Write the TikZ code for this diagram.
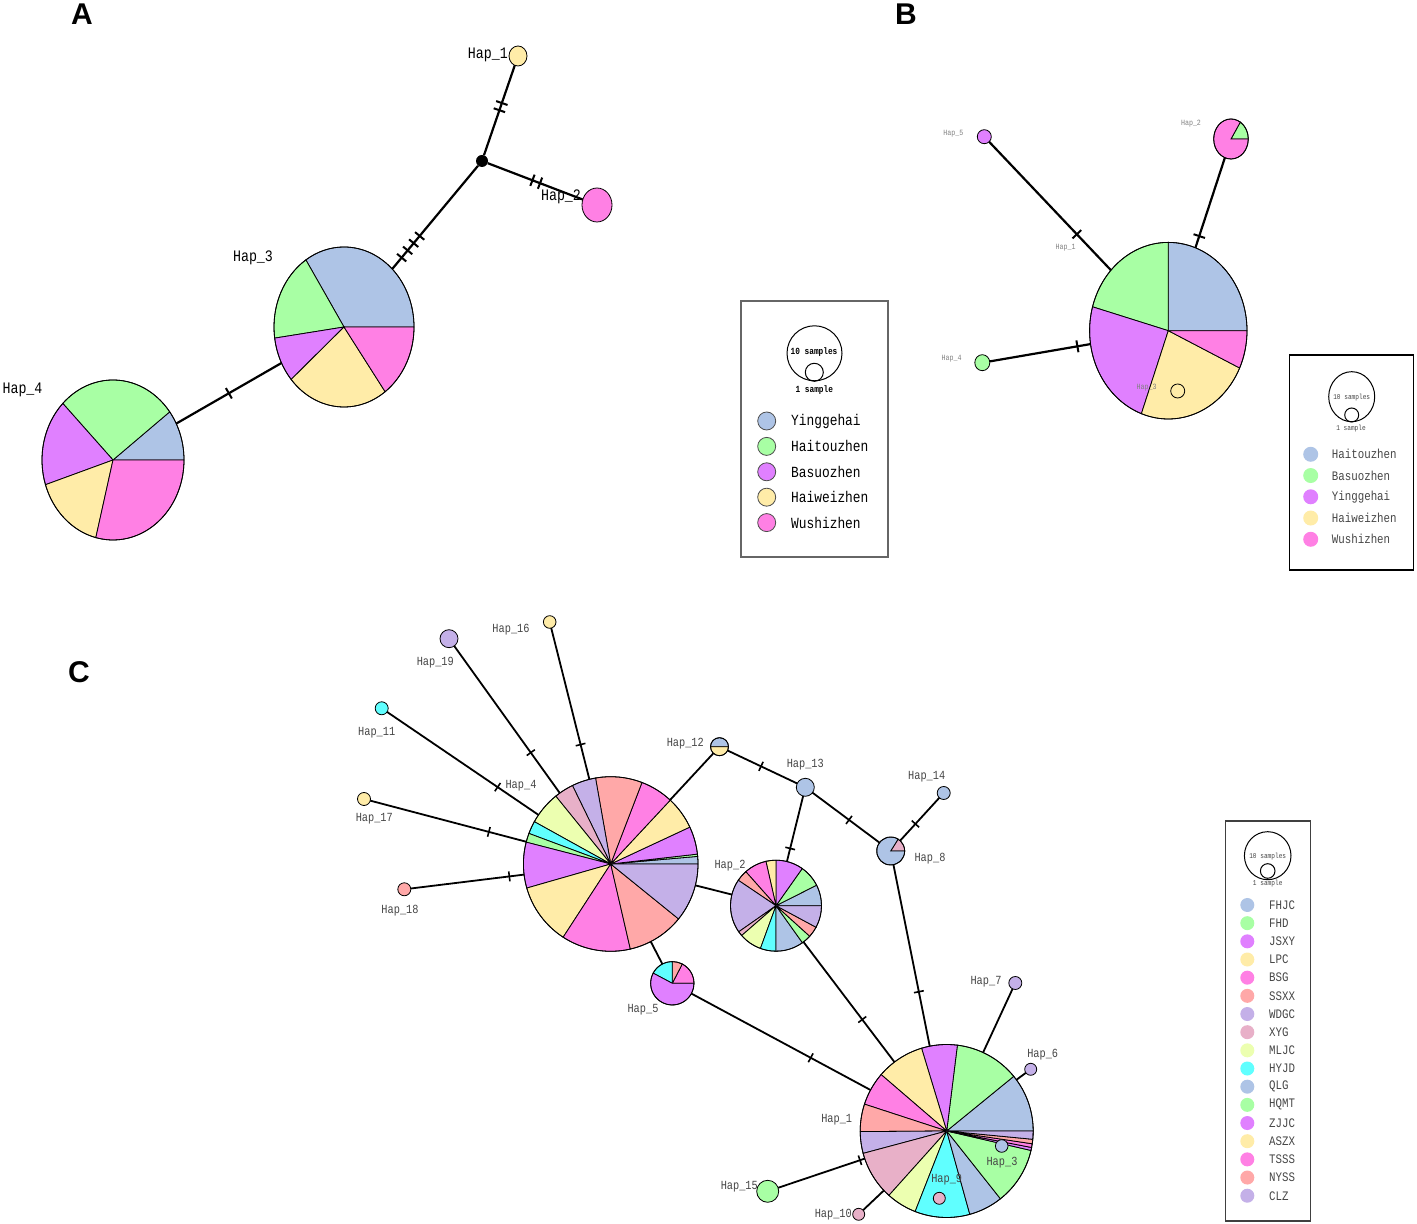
\documentclass[tikz,border=0pt]{standalone}
\usepackage{fontspec}
\setmainfont{Liberation Serif}
\newfontfamily\hapfont[FakeStretch=0.83]{Liberation Mono}
\newfontfamily\panelfont{Liberation Sans}
\usetikzlibrary{shapes.geometric}

\definecolor{hblue}{RGB}{174,196,230}
\definecolor{hgreen}{RGB}{168,255,164}
\definecolor{hpurple}{RGB}{224,128,255}
\definecolor{hyellow}{RGB}{255,236,168}
\definecolor{hpink}{RGB}{255,128,228}
\definecolor{hsalmon}{RGB}{255,168,168}
\definecolor{hlav}{RGB}{196,176,232}
\definecolor{hmauve}{RGB}{232,176,200}
\definecolor{hlime}{RGB}{236,255,176}
\definecolor{hcyan}{RGB}{96,255,255}
\definecolor{labgray}{RGB}{70,70,70}

\tikzstyle{slice}=[draw=black, line width=0.8pt]
\tikzstyle{hapnode}=[ellipse, inner sep=0pt, outer sep=0pt]
\tikzstyle{hapdot}=[ellipse, draw=black, line width=0.8pt, inner sep=0pt, outer sep=0pt]
\tikzstyle{panel}=[font=\panelfont\bfseries\fontsize{30}{30}\selectfont, inner sep=0pt]

% pie for one haplotype: name, position, x radius, y radius, slices
\newcommand{\hap}[5]{%
  \node[hapnode, minimum width=2*#3pt, minimum height=2*#4pt] (#1) at #2 {};
  \foreach \sa/\sb/\sc in {#5}
    \filldraw[slice, fill=\sc] (#1.center) -- ++(\sa:#3pt and #4pt)
      arc[start angle=\sa, end angle=\sb, x radius=#3pt, y radius=#4pt] -- cycle;
  \draw[slice] (#1.center) ellipse[x radius=#3pt, y radius=#4pt];
}

\begin{document}
\begin{tikzpicture}[x=1pt, y=1pt,
    link/.style = {line width=2.2pt},
    linkC/.style = {line width=1.8pt},
    mut/.style = {draw, sloped, rectangle, line width=2pt, minimum width=0pt, minimum height=12pt, inner sep=0pt},
    mutC/.style = {draw, sloped, rectangle, line width=1.6pt, minimum width=0pt, minimum height=10pt, inner sep=0pt},
    labA/.style = {font=\hapfont\fontsize{16}{16}\selectfont, inner sep=0pt},
    labB/.style = {font=\hapfont\fontsize{8}{8}\selectfont, text=gray, inner sep=0pt},
    labC/.style = {font=\hapfont\fontsize{12.4}{12.4}\selectfont, text=labgray, inner sep=0pt},
    keyA/.style = {circle, draw=black!70, line width=0.8pt, minimum size=18pt, inner sep=0pt},
    keyBC/.style = {circle, minimum size=15pt, inner sep=0pt},
    keytxtA/.style = {anchor=west, font=\hapfont\fontsize{15.5}{15.5}\selectfont, inner sep=0pt},
    keytxtB/.style = {anchor=west, font=\hapfont\fontsize{13}{13}\selectfont, text=labgray, inner sep=0pt},
    sizeA/.style = {font=\hapfont\bfseries\fontsize{9.4}{9.4}\selectfont, inner sep=0pt},
    sizeB/.style = {font=\hapfont\fontsize{7.4}{7.4}\selectfont, text=labgray, inner sep=0pt}]

\fill[white] (0,0) rectangle (1417,1224);
\useasboundingbox (0,0) rectangle (1417,1224);

% ---------- A ----------
\node[panel] (pA) at (82,1210) {A};
\hap{a3}{(344,897)}{70}{80}{0/123/hblue, 123/188/hgreen, 188/221/hpurple, 221/306/hyellow, 306/360/hpink}
\hap{a4}{(113,764)}{71}{80}{0/37/hblue, 37/135/hgreen, 135/198/hpurple, 198/256/hyellow, 256/360/hpink}
\node[hapdot, fill=hyellow, minimum width=18pt, minimum height=20pt] (a1) at (518,1168) {};
\node[hapdot, fill=hpink, minimum width=30pt, minimum height=34pt] (a2) at (597,1019) {};
\node[circle, fill=black, minimum size=12pt, inner sep=0pt] (aj) at (482,1063) {};

\draw[link] (a4) -- (a3) node[mut, pos=.5] {};
\draw[link] (a3) -- (aj) node[mut, pos=.11] {} node[mut, pos=.18] {} node[mut, pos=.25] {} node[mut, pos=.32] {};
\draw[link] (aj) -- (a1) node[mut, pos=.5] {} node[mut, pos=.58] {};
\draw[link] (aj) -- (a2) node[mut, pos=.47] {} node[mut, pos=.55] {};

\node[labA, anchor=east] (la1) at (508,1169) {Hap\_1};
\node[labA] (la2) at (561,1027) {Hap\_2};
\node[labA] (la3) at (253,966) {Hap\_3};
\node[labA] (la4) at (22.5,834) {Hap\_4};

% legend A
\draw[draw=black!60, line width=1.5pt] (741,923) rectangle (888,667);
\draw[line width=1pt] (814.5,870.7) circle[radius=27.5pt];
\draw[line width=1pt] (814.3,851.7) circle[radius=9pt];
\node[sizeA] (tenA) at (814,871.7) {10 samples};
\node[sizeA] (oneA) at (814.3,834) {1 sample};
\foreach \n/\col [count=\i from 0] in {Yinggehai/hblue, Haitouzhen/hgreen, Basuozhen/hpurple, Haiweizhen/hyellow, Wushizhen/hpink}{
  \node[keyA, fill=\col] (ka\i) at (766.7,{803-25.4*\i}) {};
  \node[keytxtA] (ta\i) at (791,{803-25.4*\i}) {\n};
}

% ---------- B ----------
\node[panel] (pB) at (906,1210) {B};
\hap{b1}{(1168.3,893.3)}{78.7}{88.3}{0/90/hblue, 90/164.3/hgreen, 164.3/250/hpurple, 250/335/hyellow, 335/360/hpink}
\hap{b2}{(1231,1085)}{17.3}{20}{0/57.5/hgreen, 57.5/360/hpink}
\node[hapdot, fill=hpurple, minimum size=14pt] (b5) at (984.3,1087.3) {};
\node[hapdot, fill=hgreen, minimum width=15pt, minimum height=16pt] (b4) at (982.3,861.3) {};
\node[hapdot, minimum size=14pt] (b3) at (1177.7,833) {};

\draw[link] (b5) -- (b1) node[mut, pos=.72] {};
\draw[link] (b2) -- (b1) node[mut, pos=.87] {};
\draw[link] (b4) -- (b1) node[mut, pos=.87] {};

\node[labB] (lb1) at (1065.7,976.7) {Hap\_1};
\node[labB] (lb2) at (1191,1100) {Hap\_2};
\node[labB] (lb3) at (1146.7,836.3) {Hap\_3};
\node[labB] (lb4) at (951.7,865.7) {Hap\_4};
\node[labB] (lb5) at (953.3,1090.7) {Hap\_5};

% legend B
\draw[line width=1.2pt] (1289.3,869) rectangle (1413.3,654);
\draw[line width=1pt] (1351.7,827.3) ellipse[x radius=23pt, y radius=25pt];
\draw[line width=1pt] (1351.7,809) circle[radius=7pt];
\node[sizeB] (tenB) at (1351.7,826.7) {10 samples};
\node[sizeB] (oneB) at (1351,795) {1 sample};
\foreach \n/\col [count=\i from 0] in {Haitouzhen/hblue, Basuozhen/hgreen, Yinggehai/hpurple, Haiweizhen/hyellow, Wushizhen/hpink}{
  \node[keyBC, fill=\col] (kb\i) at (1310.7,{769.7-21.25*\i}) {};
  \node[keytxtB] (tb\i) at (1331.7,{769.7-21.25*\i}) {\n};
}

% ---------- C ----------
\node[panel] (pC) at (79,552) {C};
\hap{c4}{(610.7,360)}{87.3}{87.3}{0/5/hblue, 5/6.5/hgreen, 6.5/25/hpurple, 25/47/hyellow, 47/69/hpink, 69/100/hsalmon, 100/116/hlav, 116/129/hmauve, 129/151/hlime, 151/159.5/hcyan, 159.5/165.5/hgreen, 165.5/196/hpurple, 196/237/hyellow, 237/283/hpink, 283/321/hsalmon, 321/360/hlav}
\hap{c2}{(776,318.3)}{45.5}{45.5}{0/26.8/hblue, 26.8/54.8/hgreen, 54.8/90/hpurple, 90/102.8/hyellow, 102.8/131.6/hpink, 131.6/146/hsalmon, 146/215/hlav, 215/221/hmauve, 221/250/hlime, 250/270/hcyan, 270/305.5/hblue, 305.5/317.8/hgreen, 317.8/331.7/hsalmon, 331.7/360/hlav}
\hap{c5}{(672.3,240.7)}{21.7}{21.7}{0/62.6/hpink, 62.6/90/hsalmon, 90/152/hcyan, 152/360/hpurple}
\hap{c8}{(890.7,373)}{14}{14}{0/58/hmauve, 58/360/hblue}
\hap{c12}{(719.5,477.3)}{9}{9}{0/180/hblue, 180/360/hyellow}
\hap{c1}{(946.7,93)}{86.5}{86.5}{0/39.2/hblue, 39.2/82.9/hgreen, 82.9/106.9/hpurple, 106.9/139.3/hyellow, 139.3/161.9/hpink, 161.9/180.4/hsalmon, 180.4/195/hlav, 195/228.1/hmauve, 228.1/248.6/hlime, 248.6/285.5/hcyan, 285.5/308.4/hblue, 308.4/347/hgreen, 347/349/hpurple, 349/351.5/hpink, 351.5/354.5/hsalmon, 354.5/360/hlav}

\node[hapdot, fill=hblue, minimum size=18pt] (c13) at (805.3,436.7) {};
\node[hapdot, fill=hblue, minimum size=13pt] (c14) at (943.7,431) {};
\node[hapdot, fill=hlav, minimum size=13pt] (c7) at (1015.3,241) {};
\node[hapdot, fill=hlav, minimum size=12pt] (c6) at (1030.7,154.7) {};
\node[hapdot, fill=hgreen, minimum size=22pt] (c15) at (767.7,32.7) {};
\node[hapdot, fill=hmauve, minimum size=12pt] (c10) at (858.7,9.7) {};
\node[hapdot, fill=hblue, minimum size=12.6pt] (c3) at (1001.7,78) {};
\node[hapdot, fill=hmauve, minimum size=12pt] (c9) at (939.3,25.7) {};
\node[hapdot, fill=hyellow, minimum size=12.6pt] (c16) at (549.7,602) {};
\node[hapdot, fill=hlav, minimum size=18pt] (c19) at (449,585.3) {};
\node[hapdot, fill=hcyan, minimum size=13pt] (c11) at (381.7,515.7) {};
\node[hapdot, fill=hyellow, minimum size=13pt] (c17) at (364,425) {};
\node[hapdot, fill=hsalmon, minimum size=13pt] (c18) at (404.3,334.7) {};

\draw[linkC] (c16) -- (c4) node[mutC, pos=.77] {};
\draw[linkC] (c19) -- (c4) node[mutC, pos=.725] {};
\draw[linkC] (c11) -- (c4) node[mutC, pos=.73] {};
\draw[linkC] (c17) -- (c4) node[mutC, pos=.76] {};
\draw[linkC] (c18) -- (c4) node[mutC, pos=.87] {};
\draw[linkC] (c12) -- (c4);
\draw[linkC] (c12) -- (c13) node[mutC, pos=.48] {};
\draw[linkC] (c13) -- (c2) node[mutC, pos=.8] {};
\draw[linkC] (c13) -- (c8) node[mutC, pos=.545] {};
\draw[linkC] (c14) -- (c8) node[mutC, pos=.61] {};
\draw[linkC] (c8) -- (c1) node[mutC, pos=.7] {};
\draw[linkC] (c4) -- (c2);
\draw[linkC] (c4) -- (c5);
\draw[linkC] (c2) -- (c1) node[mutC, pos=.646] {};
\draw[linkC] (c5) -- (c1) node[mutC, pos=.666] {};
\draw[linkC] (c7) -- (c1);
\draw[linkC] (c6) -- (c1);
\draw[linkC] (c15) -- (c1) node[mutC, pos=.945] {};
\draw[linkC] (c10) -- (c1);

\node[labC] (lc16) at (511,594) {Hap\_16};
\node[labC] (lc19) at (435.3,561.3) {Hap\_19};
\node[labC] (lc11) at (376.7,491.7) {Hap\_11};
\node[labC] (lc17) at (374.3,405.3) {Hap\_17};
\node[labC] (lc18) at (400,313) {Hap\_18};
\node[labC] (lc4) at (521,438.7) {Hap\_4};
\node[labC] (lc12) at (685.3,480.7) {Hap\_12};
\node[labC] (lc2) at (730,358) {Hap\_2};
\node[labC] (lc13) at (805.3,459) {Hap\_13};
\node[labC] (lc14) at (926.7,447) {Hap\_14};
\node[labC] (lc8) at (930,365) {Hap\_8};
\node[labC] (lc5) at (643,214) {Hap\_5};
\node[labC] (lc7) at (986,242.3) {Hap\_7};
\node[labC] (lc6) at (1042.7,169) {Hap\_6};
\node[labC] (lc1) at (836.7,104) {Hap\_1};
\node[labC] (lc3) at (1002,61) {Hap\_3};
\node[labC] (lc9) at (946.7,44) {Hap\_9};
\node[labC] (lc15) at (739.3,37.3) {Hap\_15};
\node[labC] (lc10) at (833.3,9.7) {Hap\_10};

% legend C
\draw[draw=black!75, line width=1.2pt] (1225.7,403) rectangle (1310.3,3);
\draw[line width=1pt] (1267.7,368.3) ellipse[x radius=23.3pt, y radius=24pt];
\draw[line width=1pt] (1267.7,353) circle[radius=7.3pt];
\node[sizeB] (tenC) at (1267.7,367.3) {10 samples};
\node[sizeB] (oneC) at (1267.7,340.7) {1 sample};
\foreach \n/\col [count=\i from 0] in {FHJC/hblue, FHD/hgreen, JSXY/hpurple, LPC/hyellow, BSG/hpink, SSXX/hsalmon, WDGC/hlav, XYG/hmauve, MLJC/hlime, HYJD/hcyan, QLG/hblue, HQMT/hgreen, ZJJC/hpurple, ASZX/hyellow, TSSS/hpink, NYSS/hsalmon, CLZ/hlav}{
  \node[keyBC, fill=\col, minimum size=14pt] (kc\i) at (1247.3,{319-18.17*\i}) {};
  \node[keytxtB] (tc\i) at (1269,{319-18.17*\i}) {\n};
}

\end{tikzpicture}
\end{document}
